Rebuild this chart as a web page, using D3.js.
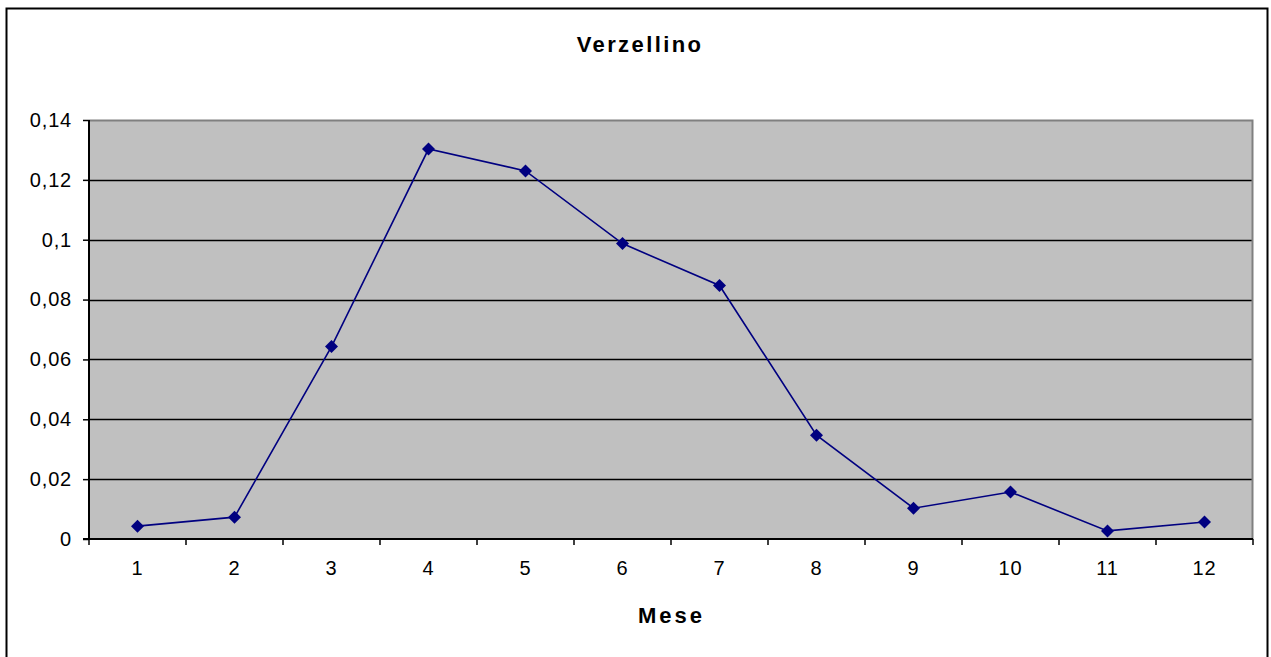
<!DOCTYPE html>
<html><head><meta charset="utf-8">
<script src="https://cdn.jsdelivr.net/npm/d3@7"></script>
<style>body{margin:0;background:#fff;}svg{display:block;font-family:Arial,"Liberation Sans",sans-serif;}</style>
</head><body>
<svg id="c" width="1271" height="657"></svg>
<script>
const categories = ["1","2","3","4","5","6","7","8","9","10","11","12"];
const values = [0.0043,0.0073,0.0643,0.1303,0.1230,0.0987,0.0847,0.0347,0.0103,0.0157,0.0027,0.0057];
const yTicks = [0,0.02,0.04,0.06,0.08,0.1,0.12,0.14];
const yTickLabels = ["0","0,02","0,04","0,06","0,08","0,1","0,12","0,14"];
const title = "Verzellino";
const xTitle = "Mese";

const svg = d3.select("#c");
const L=89, R=1253, T=120, B=539;
svg.append("rect").attr("x",6.5).attr("y",8.5).attr("width",1261).attr("height",660).attr("fill","#fff").attr("stroke","#000").attr("stroke-width",2);

const x = d3.scaleBand().domain(categories).range([L,R]).padding(0);
const y = d3.scaleLinear().domain([0,0.14]).range([B,T]);

svg.append("rect").attr("x",L).attr("y",T).attr("width",R-L).attr("height",B-T).attr("fill","#c0c0c0");
// gridlines
svg.append("g").selectAll("line").data(yTicks.filter(d=>d>0 && d<0.14)).join("line")
  .attr("x1",L).attr("x2",R).attr("y1",d=>Math.round(y(d))+0.5).attr("y2",d=>Math.round(y(d))+0.5)
  .attr("stroke","#000").attr("stroke-width",1.3);
// border top/right gray
svg.append("path").attr("d",`M${L},${T+0.5}H${R-0.5}V${B}`).attr("fill","none").attr("stroke","#808080").attr("stroke-width",2);

const font = "Arial,'Liberation Sans',sans-serif";
// y axis
const yAxis = d3.axisLeft(y).tickValues(yTicks).tickFormat((d,i)=>yTickLabels[i]).tickSize(6).tickPadding(11);
const gy = svg.append("g").attr("transform",`translate(${L},0)`).call(yAxis);
gy.attr("font-size",null).attr("font-family",null);
gy.select(".domain").attr("stroke","#000").attr("stroke-width",2).attr("d",`M0,${T}V${B}`);
gy.selectAll(".tick line").attr("stroke","#000").attr("stroke-width",1.5);
gy.selectAll("text").style("font-size","20px").style("letter-spacing","0.8px").attr("fill","#000").style("font-family",font);

// x axis
const xAxis = d3.axisBottom(x).tickSize(0).tickPadding(22);
const gx = svg.append("g").attr("transform",`translate(0,${B})`).call(xAxis);
gx.attr("font-size",null).attr("font-family",null);
gx.select(".domain").attr("stroke","#000").attr("stroke-width",2).attr("d",`M${L-6},0H${R}`);
gx.selectAll("text").style("font-size","20px").style("letter-spacing","0.8px").attr("fill","#000").style("font-family",font);
const bounds = categories.map(c=>x(c)).concat([R]);
gx.append("g").selectAll("line").data(bounds).join("line")
  .attr("x1",d=>d).attr("x2",d=>d).attr("y1",0).attr("y2",6).attr("stroke","#000").attr("stroke-width",1.5);

// line
const cx = c=>x(c)+x.bandwidth()/2;
const line = d3.line().x((d,i)=>cx(categories[i])).y(d=>y(d));
svg.append("path").datum(values).attr("d",line).attr("fill","none").attr("stroke","#000080").attr("stroke-width",1.6);
svg.append("g").selectAll("path").data(values).join("path")
  .attr("transform",(d,i)=>`translate(${cx(categories[i])},${y(d)})`)
  .attr("d","M0,-6.5L6.5,0L0,6.5L-6.5,0Z")
  .attr("fill","#000080");

svg.append("text").attr("x",640).attr("y",52).attr("text-anchor","middle").style("font-size","22px").style("letter-spacing","2.4px").attr("font-weight","bold").style("font-family",font).text(title);
svg.append("text").attr("x",671.5).attr("y",623).attr("text-anchor","middle").style("font-size","22px").style("letter-spacing","3px").attr("font-weight","bold").style("font-family",font).text(xTitle);
</script>
</body></html>
